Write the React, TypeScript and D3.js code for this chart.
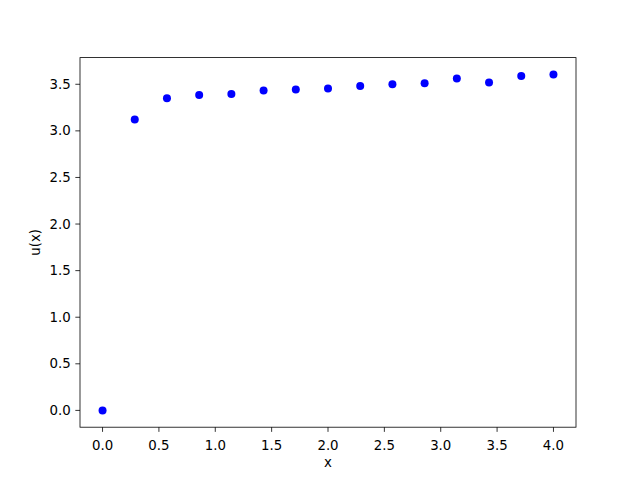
import React from 'react'
import * as d3 from 'd3'

const xValues = [0, 0.2857, 0.5714, 0.8571, 1.1429, 1.4286, 1.7143, 2.0, 2.2857, 2.5714, 2.8571, 3.1429, 3.4286, 3.7143, 4.0]
const uValues = [0, 3.123, 3.349, 3.384, 3.395, 3.434, 3.445, 3.456, 3.481, 3.499, 3.51, 3.563, 3.52, 3.588, 3.606]
const xTicks = [0, 0.5, 1, 1.5, 2, 2.5, 3, 3.5, 4]
const yTicks = [0, 0.5, 1, 1.5, 2, 2.5, 3, 3.5]

const W = 640
const H = 480
const margin = { left: 80, right: 64, top: 57.6, bottom: 52.8 }

const App: React.FC = () => {
  const [x0, x1] = d3.extent(xValues) as [number, number]
  const [y0, y1] = d3.extent(uValues) as [number, number]
  const dx = (x1 - x0) * 0.05
  const dy = (y1 - y0) * 0.05

  const x = d3.scaleLinear().domain([x0 - dx, x1 + dx]).range([margin.left, W - margin.right])
  const y = d3.scaleLinear().domain([y0 - dy, y1 + dy]).range([H - margin.bottom, margin.top])

  const font = 'DejaVu Sans, sans-serif'
  const bottom = H - margin.bottom

  return (
    <svg width={W} height={H} style={{ display: 'block', margin: -8 }} fontFamily={font}>
      <rect width={W} height={H} fill="#fff" />
      {uValues.map((v, i) => (
        <circle key={i} cx={x(xValues[i])} cy={y(v)} r={4} fill="#0000ff" />
      ))}
      <rect
        x={margin.left}
        y={margin.top}
        width={W - margin.left - margin.right}
        height={H - margin.top - margin.bottom}
        fill="none"
        stroke="#000"
        strokeWidth={0.8}
      />
      {xTicks.map(t => (
        <g key={t} transform={`translate(${x(t)},${bottom})`}>
          <line y2={4.67} stroke="#000" strokeWidth={0.8} />
          <text y={19} textAnchor="middle" fontSize={13.33} dominantBaseline="middle" fill="#000">
            {t.toFixed(1)}
          </text>
        </g>
      ))}
      {yTicks.map(t => (
        <g key={t} transform={`translate(${margin.left},${y(t)})`}>
          <line x2={-4.67} stroke="#000" strokeWidth={0.8} />
          <text x={-9.3} textAnchor="end" fontSize={13.33} dominantBaseline="central" fill="#000">
            {t.toFixed(1)}
          </text>
        </g>
      ))}
      <text x={(margin.left + W - margin.right) / 2} y={467} textAnchor="middle" fontSize={13.33} fill="#000">
        x
      </text>
      <text
        transform={`translate(40,${(margin.top + bottom) / 2}) rotate(-90)`}
        textAnchor="middle"
        fontSize={13.33}
        fill="#000"
      >
        u(x)
      </text>
    </svg>
  )
}

export default App
